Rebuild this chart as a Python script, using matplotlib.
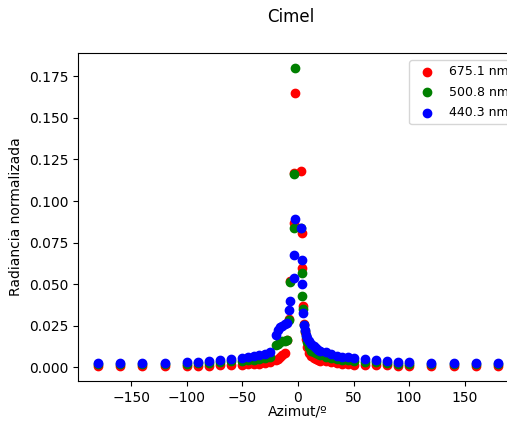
import numpy as np
import matplotlib
matplotlib.use('Agg')
import matplotlib.pyplot as plt

# azimuths (deg), left branch then right branch
az_left = [-180, -160, -140, -120, -100, -90, -80, -70, -60, -50, -45, -40, -35, -30, -25,
           -20, -18, -16, -14, -12, -10, -8, -7, -4, -3.5, -3]
az_right = [3, 3.5, 4, 4.5, 5, 6, 7, 8, 10, 12, 14, 16, 18, 20, 25, 30, 35, 40, 45, 50,
            60, 70, 80, 90, 100, 120, 140, 160, 180]

# normalized radiance, 675.1 nm
red_left = [.0008, .0008, .0008, .0008, .0009, .0010, .0011, .0012, .0014, .0016, .0018, .0020, .0022,
            .0025, .0030, .0042, .0050, .0060, .0072, .0086, .0167, .0290, .0520, .0865, .1170, .1650]
red_right = [.1180, .0810, .0600, .0370, .0260, .0210, .0170, .0120, .0086, .0066, .0056, .0048, .0043,
             .0040, .0036, .0030, .0026, .0022, .0020, .0017, .0015, .0013, .0012, .0010, .0010, .0009,
             .0008, .0008, .0008]

# 500.8 nm
green_left = [.0018, .0018, .0018, .0018, .0022, .0024, .0028, .0032, .0036, .0040, .0044, .0047, .0051,
              .0056, .0064, .0136, .0143, .0150, .0156, .0161, .0166, .0283, .0515, .0835, .1160, .1800]
green_right = [.0835, .0565, .0430, .0350, .0256, .0216, .0186, .0150, .0120, .0100, .0092, .0085, .0078,
               .0072, .0065, .0058, .0052, .0047, .0043, .0040, .0035, .0030, .0027, .0022, .0022, .0019,
               .0018, .0018, .0018]

# 440.3 nm
blue_left = [.0028, .0028, .0028, .0029, .0033, .0035, .0040, .0045, .0051, .0058, .0063, .0068, .0074,
             .0080, .0092, .0196, .0226, .0240, .0246, .0258, .0268, .0345, .0400, .0535, .0675, .0890]
blue_right = [.0835, .0645, .0500, .0330, .0256, .0226, .0196, .0176, .0156, .0138, .0126, .0116, .0106,
              .0099, .0090, .0080, .0071, .0065, .0060, .0055, .0050, .0045, .0040, .0034, .0033, .0029,
              .0028, .0028, .0028]

az = np.array(az_left + az_right)
series = [
    ('675.1 nm', 'red', red_left + red_right),
    ('500.8 nm', 'green', green_left + green_right),
    ('440.3 nm', 'blue', blue_left + blue_right),
]

fig = plt.figure(figsize=(5.07, 4.21), dpi=100)
ax = fig.add_axes([78 / 507, 40 / 421, 440 / 507, 328 / 421])
for label, color, vals in series:
    ax.scatter(az, vals, color=color, label=label)

ax.set_xlabel('Azimut/º', labelpad=0)
ax.set_ylabel('Radiancia normalizada')
ax.legend(loc='upper left', bbox_to_anchor=(409 / 507, 1 - 60 / 421),
          bbox_transform=fig.transFigure, borderaxespad=0, fontsize=9, labelspacing=0.6)
fig.suptitle('Cimel', x=291 / 507)

fig.savefig('out.png', dpi=100)
